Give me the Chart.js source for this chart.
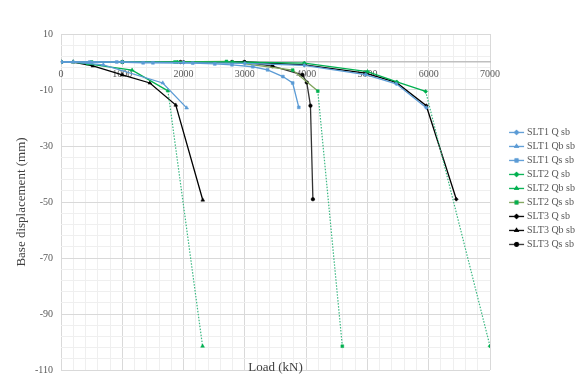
<!DOCTYPE html>
<html>
<head>
<meta charset="utf-8">
<script src="https://cdn.jsdelivr.net/npm/chart.js@4.4.1/dist/chart.umd.min.js"></script>
<style>
  html, body { margin: 0; padding: 0; background: #fff; }
</style>
</head>
<body>
<canvas id="myChart" width="576" height="376"></canvas>
<script>
// loads (kN) and base displacements (mm)
var slt1QLoad  = [0, 1000, 2000, 3000, 3970, 4970, 5470, 5960];
var slt1QDisp  = [0, 0, -0.2, -0.5, -1.2, -4.5, -7.8, -16.3];
var slt1QbLoad = [0, 200, 690, 1660, 2050];
var slt1QbDisp = [0, 0, -1, -7.5, -16.4];
var slt1QsLoad = [0, 470, 910, 1340, 1500, 2150, 2510, 2790, 3130, 3370, 3620, 3780, 3880];
var slt1QsDisp = [0, 0, 0, -0.3, -0.3, -0.4, -0.7, -1, -1.7, -2.8, -5.2, -7.5, -16.2];

var slt2QLoad  = [0, 1000, 1900, 2800, 3970, 5000, 5480, 5950, 7000];
var slt2QDisp  = [0, 0, 0, 0, -0.4, -3.4, -7.1, -10.5, -101.5];
var slt2QbLoad = [0, 200, 440, 1160, 1745, 2310];
var slt2QbDisp = [0, 0, -0.7, -2.9, -10.3, -101.5];
var slt2QsLoad = [0, 500, 1000, 1860, 2700, 3780, 4190, 4590];
var slt2QsDisp = [0, 0, 0, 0, 0.2, -2.9, -10.4, -101.5];

var slt3QLoad  = [0, 1000, 2000, 3000, 3970, 4970, 5470, 5960, 6450];
var slt3QDisp  = [0, 0, 0, 0, -1, -4, -7.3, -15.6, -49];
var slt3QbLoad = [0, 200, 520, 1000, 1450, 1873, 2313];
var slt3QbDisp = [0, 0, -1.4, -4.6, -7.5, -15.4, -49.3];
var slt3QsLoad = [0, 1000, 1950, 2790, 2990, 3450, 3940, 4010, 4070, 4110];
var slt3QsDisp = [0, 0, 0, 0, 0, -1.5, -4.6, -7.3, -15.6, -49];

var xTickLabels = [0, 1000, 2000, 3000, 4000, 5000, 6000, 7000];
var yTickLabels = [10, -10, -30, -50, -70, -90, -110];

function pts(xs, ys) {
    return xs.map(function (x, i) { return { x: x, y: ys[i] }; });
}

// last segment of the SLT2 curves is dotted
function dottedLast(n) {
    return {
        borderDash: function (ctx) { return ctx.p1DataIndex === n - 1 ? [1.5, 1.5] : undefined; },
        borderColor: function (ctx) { return ctx.p1DataIndex === n - 1 ? '#3cb883' : undefined; },
        borderWidth: function (ctx) { return ctx.p1DataIndex === n - 1 ? 1.2 : undefined; }
    };
}

function series(label, xs, ys, line, mark, style, extra) {
    var ds = {
        label: label,
        data: pts(xs, ys),
        borderColor: line,
        backgroundColor: mark,
        pointBackgroundColor: mark,
        pointBorderColor: mark,
        pointStyle: style,
        pointRadius: style === 'triangle' ? 2.2 : (style === 'circle' ? 1.8 : 2),
        pointBorderWidth: 0.5,
        borderWidth: 1.3,
        showLine: true,
        fill: false,
        tension: 0
    };
    if (extra) ds.segment = extra;
    return ds;
}

var blue = '#5b9bd5', green = '#00b050', olive = '#7ea35a', black = '#000000';

var datasets = [
    series('SLT1 Q sb', slt1QLoad, slt1QDisp, blue, blue, 'rectRot'),
    series('SLT1 Qb sb', slt1QbLoad, slt1QbDisp, blue, blue, 'triangle'),
    series('SLT1 Qs sb', slt1QsLoad, slt1QsDisp, blue, blue, 'rect'),
    series('SLT2 Q sb', slt2QLoad, slt2QDisp, green, green, 'rectRot', dottedLast(slt2QLoad.length)),
    series('SLT2 Qb sb', slt2QbLoad, slt2QbDisp, green, green, 'triangle', dottedLast(slt2QbLoad.length)),
    series('SLT2 Qs sb', slt2QsLoad, slt2QsDisp, olive, green, 'rect', dottedLast(slt2QsLoad.length)),
    series('SLT3 Q sb', slt3QLoad, slt3QDisp, black, black, 'rectRot'),
    series('SLT3 Qb sb', slt3QbLoad, slt3QbDisp, black, black, 'triangle'),
    series('SLT3 Qs sb', slt3QsLoad, slt3QsDisp, '#333333', black, 'circle')
];

// small line + marker picture for each legend entry (wider than the box so it sits close to the text)
function legendIcon(ds) {
    var c = document.createElement('canvas');
    c.width = 21; c.height = 7;
    var g = c.getContext('2d');
    g.strokeStyle = ds.borderColor;
    g.lineWidth = 1.3;
    g.beginPath(); g.moveTo(5, 3.5); g.lineTo(20, 3.5); g.stroke();
    Chart.helpers.drawPoint(g, { pointStyle: ds.pointStyle, radius: 1.8, borderWidth: 0.5 }, 12.5, 3.5);
    g.fillStyle = ds.pointBackgroundColor;
    g.strokeStyle = ds.pointBackgroundColor;
    g.fill(); g.stroke();
    return c;
}

var loadTitle = {
    id: 'loadTitle',
    afterDraw: function (chart) {
        var a = chart.chartArea, ctx = chart.ctx;
        ctx.save();
        ctx.font = '13px "Liberation Serif", serif';
        ctx.fillStyle = '#404040';
        ctx.textAlign = 'center';
        ctx.textBaseline = 'middle';
        ctx.fillText('Load (kN)', (a.left + a.right) / 2, 368);
        ctx.restore();
    }
};

var ctx = document.getElementById('myChart').getContext('2d');
var myChart = new Chart(ctx, {
    type: 'scatter',
    data: { datasets: datasets },
    plugins: [loadTitle],
    options: {
        responsive: false,
        animation: false,
        layout: { padding: { left: 14, right: -9, top: 34, bottom: 0 } },
        scales: {
            x: {
                type: 'linear',
                position: { y: 0 },
                min: 0,
                max: 7000,
                ticks: {
                    stepSize: 200,
                    autoSkip: false,
                    maxRotation: 0,
                    padding: 6,
                    color: '#595959',
                    font: { family: '"Liberation Serif", serif', size: 10 },
                    callback: function (v) { return xTickLabels.indexOf(v) >= 0 ? String(v) : ''; }
                },
                grid: {
                    drawTicks: false,
                    color: function (c) { return c.tick && c.tick.value % 1000 === 0 ? '#d9d9d9' : '#efefef'; }
                },
                border: { display: true, color: '#bfbfbf', width: 1.5 }
            },
            y: {
                type: 'linear',
                min: -110,
                max: 10,
                afterFit: function (s) { s.width = 47; },
                ticks: {
                    stepSize: 4,
                    autoSkip: false,
                    padding: 0,
                    color: '#595959',
                    font: { family: '"Liberation Serif", serif', size: 10 },
                    callback: function (v) { return yTickLabels.indexOf(v) >= 0 ? String(v) : ''; }
                },
                grid: {
                    drawTicks: true,
                    tickLength: 8,
                    tickColor: 'rgba(0,0,0,0)',
                    color: function (c) { return c.tick && yTickLabels.indexOf(c.tick.value) >= 0 ? '#d9d9d9' : '#efefef'; }
                },
                border: { display: false },
                title: {
                    display: true,
                    text: 'Base displacement (mm)',
                    color: '#404040',
                    font: { family: '"Liberation Serif", serif', size: 13 },
                    padding: { top: 0, bottom: 0 }
                }
            },
            gap: {
                type: 'linear',
                position: 'right',
                display: true,
                grid: { display: false },
                ticks: { display: false },
                border: { display: false },
                afterFit: function (s) { s.width = 13; }
            }
        },
        plugins: {
            legend: {
                position: 'right',
                align: 'start',
                // empty title only pushes the entries down to where they sit in the picture
                title: { display: true, text: '', padding: { top: 75, bottom: 0 } },
                labels: {
                    usePointStyle: true,
                    pointStyleWidth: 15,
                    boxHeight: 7,
                    padding: 4,
                    color: '#595959',
                    font: { family: '"Liberation Serif", serif', size: 10 },
                    generateLabels: function (chart) {
                        return chart.data.datasets.map(function (ds, i) {
                            return {
                                text: ds.label,
                                pointStyle: legendIcon(ds),
                                fontColor: '#595959',
                                fillStyle: 'transparent',
                                strokeStyle: 'transparent',
                                lineWidth: 0,
                                hidden: false,
                                datasetIndex: i
                            };
                        });
                    }
                }
            },
            tooltip: { enabled: false }
        }
    }
});
</script>
</body>
</html>
